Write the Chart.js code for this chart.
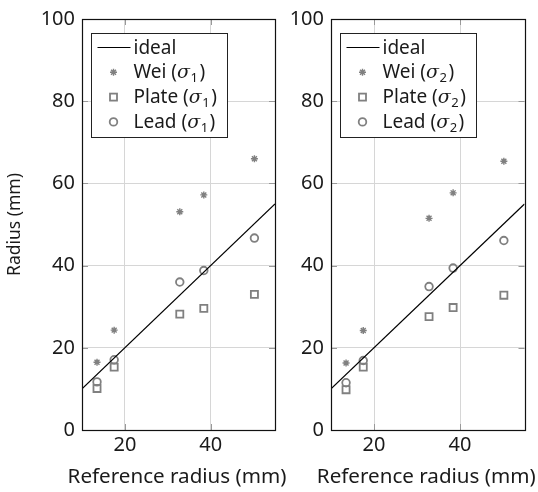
<!DOCTYPE html>
<html><head><meta charset="utf-8">
<script src="https://cdn.jsdelivr.net/npm/chart.js@4/dist/chart.umd.min.js"></script>
<style>
html,body{margin:0;padding:0;background:#fff;width:538px;height:492px;overflow:hidden;}
.wrap{position:absolute;top:0;height:492px;}
canvas{display:block;}
</style></head><body>
<div class="wrap" style="left:0;width:300px"><canvas id="c1" width="300" height="492"></canvas></div>
<div class="wrap" style="left:270px;width:268px"><canvas id="c2" width="268" height="492"></canvas></div>
<script>
// ---- data ----
const refRadius   = [13.5, 17.5, 32.8, 38.4, 50.2];
const weiSigma1   = [16.5, 24.3, 53.1, 57.2, 66.0];
const plateSigma1 = [10.1, 15.3, 28.2, 29.6, 33.0];
const leadSigma1  = [11.7, 17.1, 36.0, 38.8, 46.7];
const weiSigma2   = [16.3, 24.2, 51.5, 57.7, 65.4];
const plateSigma2 = [9.8, 15.3, 27.6, 29.8, 32.8];
const leadSigma2  = [11.5, 16.9, 34.9, 39.4, 46.1];
const idealX      = [10, 55];
const xTicks      = [20, 40];
const yTicks      = [0, 20, 40, 60, 80, 100];
const seriesNames = ['Wei', 'Plate', 'Lead'];
const xTitle      = 'Reference radius (mm)';
const yTitle      = 'Radius (mm)';

const FONT = '"Noto Sans", Lato, sans-serif';
const GRAY = '#808080';
const TXT = '#1a1a1a';

function pts(xs, ys) { return xs.map((x, i) => ({x: x, y: ys[i]})); }

function drawMarker(ctx, style, x, y) {
  ctx.save();
  ctx.strokeStyle = GRAY; ctx.fillStyle = GRAY;
  if (style === 'star') {
    ctx.lineWidth = 1.4;
    const r = 3.5;
    ctx.beginPath();
    for (let k = 0; k < 4; k++) {
      const a = k * Math.PI / 4;
      ctx.moveTo(x - r * Math.sin(a), y - r * Math.cos(a));
      ctx.lineTo(x + r * Math.sin(a), y + r * Math.cos(a));
    }
    ctx.stroke();
  } else if (style === 'rect') {
    ctx.lineWidth = 1.8;
    const s = 3.5;
    ctx.strokeRect(x - s, y - s, 2 * s, 2 * s);
  } else {
    ctx.lineWidth = 1.8;
    ctx.beginPath(); ctx.arc(x, y, 3.8, 0, Math.PI * 2); ctx.stroke();
  }
  ctx.restore();
}

const framePlugin = {
  id: 'frame',
  afterDatasetsDraw(chart) {
    const {ctx, chartArea: ca, scales} = chart;
    ctx.save();
    ctx.strokeStyle = '#999'; ctx.lineWidth = 1;
    ctx.beginPath();
    xTicks.forEach(v => {
      const px = Math.round(scales.x.getPixelForValue(v)) + 0.5;
      ctx.moveTo(px, ca.bottom); ctx.lineTo(px, ca.bottom - 6);
      ctx.moveTo(px, ca.top); ctx.lineTo(px, ca.top + 6);
    });
    yTicks.forEach(v => {
      const py = Math.round(scales.y.getPixelForValue(v)) + 0.5;
      ctx.moveTo(ca.left, py); ctx.lineTo(ca.left + 6, py);
      ctx.moveTo(ca.right, py); ctx.lineTo(ca.right - 6, py);
    });
    ctx.stroke();
    ctx.strokeStyle = '#111'; ctx.lineWidth = 1.2;
    ctx.strokeRect(Math.round(ca.left) + 0.5, Math.round(ca.top) + 0.5,
                   Math.round(ca.right - ca.left), Math.round(ca.bottom - ca.top));
    // x-axis title (drawn without width compression)
    ctx.fillStyle = TXT;
    ctx.font = '20.6px ' + FONT;
    ctx.textAlign = 'center'; ctx.textBaseline = 'alphabetic';
    ctx.fillText(xTitle, (ca.left + ca.right) / 2 - 1.5, 483);
    ctx.restore();
  }
};

const legendPlugin = {
  id: 'boxLegend',
  afterDraw(chart, args, opts) {
    const {ctx, chartArea: ca} = chart;
    const bx = Math.round(ca.left + 9) + 0.5, by = Math.round(ca.top + 14) + 0.5;
    const bw = 136, bh = 104;
    ctx.save();
    ctx.fillStyle = '#fff'; ctx.fillRect(bx, by, bw, bh);
    ctx.strokeStyle = '#222'; ctx.lineWidth = 1; ctx.strokeRect(bx, by, bw, bh);
    const rowY = i => by + 14 + 24.8 * i;
    const mx = bx + 22, tx = bx + 42;
    ctx.strokeStyle = '#000'; ctx.lineWidth = 1.2;
    ctx.beginPath(); ctx.moveTo(bx + 6, rowY(0)); ctx.lineTo(bx + 39, rowY(0)); ctx.stroke();
    ctx.fillStyle = TXT; ctx.textBaseline = 'alphabetic'; ctx.textAlign = 'left';
    ctx.font = '19px ' + FONT;
    ctx.fillText(chart.data.datasets[0].label, tx, rowY(0) + 6);
    const styles = ['star', 'rect', 'circle'];
    seriesNames.forEach((name, i) => {
      const y = rowY(i + 1);
      drawMarker(ctx, styles[i], mx, y);
      let x = tx;
      const base = y + 6;
      ctx.font = '19px ' + FONT;
      ctx.fillText(name + ' (', x, base); x += ctx.measureText(name + ' (').width;
      ctx.font = 'italic 19px "DejaVu Serif", serif';
      ctx.fillText('σ', x, base); x += ctx.measureText('σ').width + 0.5;
      ctx.font = '13px ' + FONT;
      ctx.fillText(String(opts.sub), x, base + 4); x += ctx.measureText(String(opts.sub)).width + 1.5;
      ctx.font = '19px ' + FONT;
      ctx.fillText(')', x, base);
    });
    ctx.restore();
  }
};

function makeChart(id, sub, wei, plate, lead, yWidth, padRight, showYTitle) {
  const subChar = sub === 1 ? '\u2081' : '\u2082';
  return new Chart(document.getElementById(id), {
    type: 'scatter',
    data: {
      datasets: [
        {label: 'ideal', data: idealX.map(v => ({x: v, y: v})), showLine: true,
         borderColor: '#000', borderWidth: 1.2, pointRadius: 0, fill: false},
        {label: 'Wei (σ' + subChar + ')', data: pts(refRadius, wei), pointStyle: 'star',
         pointRadius: 3.5, borderColor: GRAY, backgroundColor: GRAY, pointBorderWidth: 1.4},
        {label: 'Plate (σ' + subChar + ')', data: pts(refRadius, plate), pointStyle: 'rect',
         pointRadius: 5, borderColor: GRAY, backgroundColor: 'rgba(0,0,0,0)', pointBorderWidth: 1.8},
        {label: 'Lead (σ' + subChar + ')', data: pts(refRadius, lead), pointStyle: 'circle',
         pointRadius: 3.8, borderColor: GRAY, backgroundColor: 'rgba(0,0,0,0)', pointBorderWidth: 1.8}
      ]
    },
    options: {
      responsive: false, animation: false, devicePixelRatio: 1,
      layout: {padding: {top: 16, right: padRight, bottom: 0, left: 0}},
      plugins: {legend: {display: false}, tooltip: {enabled: false}, boxLegend: {sub: sub}},
      scales: {
        x: {
          type: 'linear', min: 10, max: 55,
          afterBuildTicks: s => { s.ticks = xTicks.map(v => ({value: v})); },
          afterFit: s => { s.height = 62; },
          grid: {color: '#d6d6d6', drawTicks: false},
          border: {display: false},
          ticks: {font: {family: FONT, size: 20}, color: TXT, padding: 3},
          title: {display: false}
        },
        y: {
          type: 'linear', min: 0, max: 100,
          afterBuildTicks: s => { s.ticks = yTicks.map(v => ({value: v})); },
          afterFit: s => { s.width = yWidth; },
          grid: {color: '#d6d6d6', drawTicks: false},
          border: {display: false},
          ticks: {font: {family: FONT, size: 20}, color: TXT, padding: 7},
          title: {display: showYTitle, text: yTitle, color: TXT,
                  font: {family: FONT, size: 17.5}, padding: {top: 5, bottom: 0}}
        }
      }
    },
    plugins: [framePlugin, legendPlugin]
  });
}

makeChart('c1', 1, weiSigma1, plateSigma1, leadSigma1, 82, 25, true);
makeChart('c2', 2, weiSigma2, plateSigma2, leadSigma2, 61, 13.5, false);
</script>
</body></html>
